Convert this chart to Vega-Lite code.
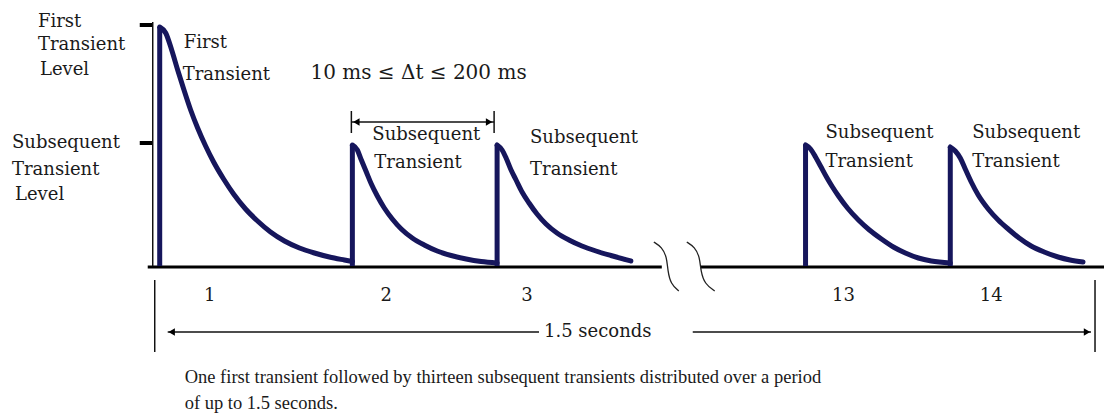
{
  "$schema": "https://vega.github.io/schema/vega-lite/v6.json",
  "width": 1106,
  "height": 420,
  "padding": 0,
  "autosize": {"type": "fit", "contains": "padding"},
  "background": "white",
  "config": {"view": {"stroke": null}, "axis": {"disable": true}},
  "datasets": {
    "rise": [
      {"pulse": 1, "x": 160, "y": 266, "y2": 27},
      {"pulse": 2, "x": 353, "y": 266, "y2": 145},
      {"pulse": 3, "x": 498, "y": 266, "y2": 145},
      {"pulse": 13, "x": 807, "y": 266, "y2": 145},
      {"pulse": 14, "x": 952, "y": 266, "y2": 147}
    ],
    "decay": [
      {"pulse": 1, "x": 160, "y": 27}, {"pulse": 1, "x": 166, "y": 33}, {"pulse": 1, "x": 172, "y": 50},
      {"pulse": 1, "x": 178, "y": 70}, {"pulse": 1, "x": 184, "y": 89}, {"pulse": 1, "x": 191, "y": 110},
      {"pulse": 1, "x": 198, "y": 128}, {"pulse": 1, "x": 206, "y": 146}, {"pulse": 1, "x": 214, "y": 162},
      {"pulse": 1, "x": 224, "y": 179}, {"pulse": 1, "x": 234, "y": 194}, {"pulse": 1, "x": 246, "y": 209},
      {"pulse": 1, "x": 258, "y": 221}, {"pulse": 1, "x": 271, "y": 232}, {"pulse": 1, "x": 285, "y": 241},
      {"pulse": 1, "x": 300, "y": 248}, {"pulse": 1, "x": 315, "y": 253}, {"pulse": 1, "x": 330, "y": 257},
      {"pulse": 1, "x": 345, "y": 260}, {"pulse": 1, "x": 353, "y": 261.5},
      {"pulse": 2, "x": 353, "y": 145}, {"pulse": 2, "x": 358, "y": 150}, {"pulse": 2, "x": 362, "y": 160},
      {"pulse": 2, "x": 367, "y": 172}, {"pulse": 2, "x": 372, "y": 184}, {"pulse": 2, "x": 378, "y": 196},
      {"pulse": 2, "x": 385, "y": 208}, {"pulse": 2, "x": 393, "y": 219}, {"pulse": 2, "x": 402, "y": 229},
      {"pulse": 2, "x": 413, "y": 238}, {"pulse": 2, "x": 425, "y": 245}, {"pulse": 2, "x": 438, "y": 251},
      {"pulse": 2, "x": 452, "y": 255.5}, {"pulse": 2, "x": 467, "y": 259}, {"pulse": 2, "x": 482, "y": 261.5},
      {"pulse": 2, "x": 498, "y": 263},
      {"pulse": 3, "x": 498, "y": 145}, {"pulse": 3, "x": 503, "y": 150}, {"pulse": 3, "x": 507, "y": 158},
      {"pulse": 3, "x": 512, "y": 170}, {"pulse": 3, "x": 517, "y": 180}, {"pulse": 3, "x": 523, "y": 192},
      {"pulse": 3, "x": 530, "y": 203}, {"pulse": 3, "x": 538, "y": 214}, {"pulse": 3, "x": 547, "y": 224},
      {"pulse": 3, "x": 558, "y": 233}, {"pulse": 3, "x": 570, "y": 240}, {"pulse": 3, "x": 583, "y": 246},
      {"pulse": 3, "x": 597, "y": 251}, {"pulse": 3, "x": 612, "y": 255.5}, {"pulse": 3, "x": 632, "y": 261},
      {"pulse": 13, "x": 807, "y": 145}, {"pulse": 13, "x": 812, "y": 149}, {"pulse": 13, "x": 817, "y": 157},
      {"pulse": 13, "x": 822, "y": 166}, {"pulse": 13, "x": 828, "y": 177}, {"pulse": 13, "x": 834, "y": 187},
      {"pulse": 13, "x": 840, "y": 196}, {"pulse": 13, "x": 849, "y": 208}, {"pulse": 13, "x": 860, "y": 220},
      {"pulse": 13, "x": 871, "y": 230}, {"pulse": 13, "x": 883, "y": 239}, {"pulse": 13, "x": 895, "y": 247},
      {"pulse": 13, "x": 907, "y": 253}, {"pulse": 13, "x": 920, "y": 258}, {"pulse": 13, "x": 933, "y": 261},
      {"pulse": 13, "x": 952, "y": 263},
      {"pulse": 14, "x": 952, "y": 147}, {"pulse": 14, "x": 957, "y": 151}, {"pulse": 14, "x": 962, "y": 158},
      {"pulse": 14, "x": 967, "y": 169}, {"pulse": 14, "x": 973, "y": 182}, {"pulse": 14, "x": 980, "y": 195},
      {"pulse": 14, "x": 990, "y": 209}, {"pulse": 14, "x": 1000, "y": 220}, {"pulse": 14, "x": 1010, "y": 229},
      {"pulse": 14, "x": 1021, "y": 238}, {"pulse": 14, "x": 1033, "y": 246}, {"pulse": 14, "x": 1046, "y": 252},
      {"pulse": 14, "x": 1060, "y": 257}, {"pulse": 14, "x": 1072, "y": 260}, {"pulse": 14, "x": 1085, "y": 262}
    ],
    "baseline": [
      {"x": 148, "x2": 663, "y": 267},
      {"x": 702, "x2": 1106, "y": 267}
    ],
    "levelTicks": [
      {"x": 140, "x2": 153, "y": 25},
      {"x": 140, "x2": 153, "y": 143}
    ],
    "thinH": [
      {"x": 168, "x2": 540, "y": 332},
      {"x": 694, "x2": 1093, "y": 332},
      {"x": 352, "x2": 495, "y": 122}
    ],
    "thinV": [
      {"x": 153, "y": 22, "y2": 266},
      {"x": 155, "y": 280, "y2": 352},
      {"x": 1097, "y": 280, "y2": 352},
      {"x": 352, "y": 111, "y2": 133},
      {"x": 495, "y": 111, "y2": 133}
    ],
    "arrowLeft": [
      {"x": 172, "y": 332},
      {"x": 357, "y": 122}
    ],
    "arrowRight": [
      {"x": 1089, "y": 332},
      {"x": 490, "y": 122}
    ],
    "breaks": [
      {"mark": "a", "i": 1, "x": 655, "y": 242}, {"mark": "a", "i": 2, "x": 663, "y": 247},
      {"mark": "a", "i": 3, "x": 668, "y": 257}, {"mark": "a", "i": 4, "x": 669, "y": 271},
      {"mark": "a", "i": 5, "x": 672, "y": 284}, {"mark": "a", "i": 6, "x": 680, "y": 291},
      {"mark": "b", "i": 1, "x": 688, "y": 242}, {"mark": "b", "i": 2, "x": 696, "y": 247},
      {"mark": "b", "i": 3, "x": 701, "y": 257}, {"mark": "b", "i": 4, "x": 702, "y": 271},
      {"mark": "b", "i": 5, "x": 706, "y": 284}, {"mark": "b", "i": 6, "x": 716, "y": 291}
    ],
    "labels": [
      {"text": "First", "x": 38, "y": 22},
      {"text": "Transient", "x": 38, "y": 45},
      {"text": "Level", "x": 40, "y": 70},
      {"text": "Subsequent", "x": 12, "y": 143},
      {"text": "Transient", "x": 12, "y": 170},
      {"text": "Level", "x": 15, "y": 195},
      {"text": "First", "x": 184, "y": 43},
      {"text": "Transient", "x": 183, "y": 75},
      {"text": "Subsequent", "x": 373, "y": 135},
      {"text": "Transient", "x": 375, "y": 163},
      {"text": "Subsequent", "x": 531, "y": 138},
      {"text": "Transient", "x": 531, "y": 170},
      {"text": "Subsequent", "x": 827, "y": 133},
      {"text": "Transient", "x": 827, "y": 162},
      {"text": "Subsequent", "x": 974, "y": 133},
      {"text": "Transient", "x": 974, "y": 162},
      {"text": "1.5 seconds", "x": 545, "y": 332}
    ],
    "numbers": [
      {"text": "1", "x": 210, "y": 296},
      {"text": "2", "x": 387, "y": 296},
      {"text": "3", "x": 528, "y": 296},
      {"text": "13", "x": 845, "y": 296},
      {"text": "14", "x": 993, "y": 296}
    ],
    "interval": [
      {"text": "10 ms ≤ Δt ≤ 200 ms", "x": 311, "y": 73}
    ],
    "caption": [
      {"text": "One first transient followed by thirteen subsequent transients distributed over a period", "x": 185, "y": 377},
      {"text": "of up to 1.5 seconds.", "x": 185, "y": 403}
    ]
  },
  "layer": [
    {
      "data": {"name": "baseline"},
      "mark": {"type": "rule", "color": "#000000", "strokeWidth": 3},
      "encoding": {
        "x": {"field": "x", "type": "quantitative", "scale": {"domain": [0, 1106], "nice": false, "zero": false}},
        "x2": {"field": "x2"},
        "y": {"field": "y", "type": "quantitative", "scale": {"domain": [0, 420], "nice": false, "zero": false, "reverse": true}}
      }
    },
    {
      "data": {"name": "levelTicks"},
      "mark": {"type": "rule", "color": "#000000", "strokeWidth": 4},
      "encoding": {
        "x": {"field": "x", "type": "quantitative", "scale": {"domain": [0, 1106], "nice": false, "zero": false}},
        "x2": {"field": "x2"},
        "y": {"field": "y", "type": "quantitative", "scale": {"domain": [0, 420], "nice": false, "zero": false, "reverse": true}}
      }
    },
    {
      "data": {"name": "thinH"},
      "mark": {"type": "rule", "color": "#111111", "strokeWidth": 1.5},
      "encoding": {
        "x": {"field": "x", "type": "quantitative", "scale": {"domain": [0, 1106], "nice": false, "zero": false}},
        "x2": {"field": "x2"},
        "y": {"field": "y", "type": "quantitative", "scale": {"domain": [0, 420], "nice": false, "zero": false, "reverse": true}}
      }
    },
    {
      "data": {"name": "thinV"},
      "mark": {"type": "rule", "color": "#111111", "strokeWidth": 1.5},
      "encoding": {
        "x": {"field": "x", "type": "quantitative", "scale": {"domain": [0, 1106], "nice": false, "zero": false}},
        "y": {"field": "y", "type": "quantitative", "scale": {"domain": [0, 420], "nice": false, "zero": false, "reverse": true}},
        "y2": {"field": "y2"}
      }
    },
    {
      "data": {"name": "arrowLeft"},
      "mark": {"type": "point", "shape": "triangle-left", "filled": true, "color": "#000000", "size": 55, "opacity": 1},
      "encoding": {
        "x": {"field": "x", "type": "quantitative", "scale": {"domain": [0, 1106], "nice": false, "zero": false}},
        "y": {"field": "y", "type": "quantitative", "scale": {"domain": [0, 420], "nice": false, "zero": false, "reverse": true}}
      }
    },
    {
      "data": {"name": "arrowRight"},
      "mark": {"type": "point", "shape": "triangle-right", "filled": true, "color": "#000000", "size": 55, "opacity": 1},
      "encoding": {
        "x": {"field": "x", "type": "quantitative", "scale": {"domain": [0, 1106], "nice": false, "zero": false}},
        "y": {"field": "y", "type": "quantitative", "scale": {"domain": [0, 420], "nice": false, "zero": false, "reverse": true}}
      }
    },
    {
      "data": {"name": "breaks"},
      "mark": {"type": "line", "color": "#222222", "strokeWidth": 1.3, "interpolate": "basis"},
      "encoding": {
        "x": {"field": "x", "type": "quantitative", "scale": {"domain": [0, 1106], "nice": false, "zero": false}},
        "y": {"field": "y", "type": "quantitative", "scale": {"domain": [0, 420], "nice": false, "zero": false, "reverse": true}},
        "detail": {"field": "mark"},
        "order": {"field": "i"}
      }
    },
    {
      "data": {"name": "rise"},
      "mark": {"type": "rule", "color": "#16165c", "strokeWidth": 5, "strokeCap": "butt"},
      "encoding": {
        "x": {"field": "x", "type": "quantitative", "scale": {"domain": [0, 1106], "nice": false, "zero": false}},
        "y": {"field": "y", "type": "quantitative", "scale": {"domain": [0, 420], "nice": false, "zero": false, "reverse": true}},
        "y2": {"field": "y2"}
      }
    },
    {
      "data": {"name": "decay"},
      "mark": {"type": "line", "color": "#16165c", "strokeWidth": 5, "interpolate": "monotone", "strokeCap": "round", "strokeJoin": "round"},
      "encoding": {
        "x": {"field": "x", "type": "quantitative", "scale": {"domain": [0, 1106], "nice": false, "zero": false}},
        "y": {"field": "y", "type": "quantitative", "scale": {"domain": [0, 420], "nice": false, "zero": false, "reverse": true}},
        "detail": {"field": "pulse"}
      }
    },
    {
      "data": {"name": "labels"},
      "mark": {"type": "text", "font": "DejaVu Serif", "fontSize": 18, "align": "left", "baseline": "middle", "color": "#1a1a1a"},
      "encoding": {
        "x": {"field": "x", "type": "quantitative", "scale": {"domain": [0, 1106], "nice": false, "zero": false}},
        "y": {"field": "y", "type": "quantitative", "scale": {"domain": [0, 420], "nice": false, "zero": false, "reverse": true}},
        "text": {"field": "text"}
      }
    },
    {
      "data": {"name": "numbers"},
      "mark": {"type": "text", "font": "DejaVu Serif", "fontSize": 18, "align": "center", "baseline": "middle", "color": "#1a1a1a"},
      "encoding": {
        "x": {"field": "x", "type": "quantitative", "scale": {"domain": [0, 1106], "nice": false, "zero": false}},
        "y": {"field": "y", "type": "quantitative", "scale": {"domain": [0, 420], "nice": false, "zero": false, "reverse": true}},
        "text": {"field": "text"}
      }
    },
    {
      "data": {"name": "interval"},
      "mark": {"type": "text", "font": "DejaVu Serif", "fontSize": 20, "align": "left", "baseline": "middle", "color": "#1a1a1a"},
      "encoding": {
        "x": {"field": "x", "type": "quantitative", "scale": {"domain": [0, 1106], "nice": false, "zero": false}},
        "y": {"field": "y", "type": "quantitative", "scale": {"domain": [0, 420], "nice": false, "zero": false, "reverse": true}},
        "text": {"field": "text"}
      }
    },
    {
      "data": {"name": "caption"},
      "mark": {"type": "text", "font": "Liberation Serif", "fontSize": 18.5, "align": "left", "baseline": "middle", "color": "#1a1a1a"},
      "encoding": {
        "x": {"field": "x", "type": "quantitative", "scale": {"domain": [0, 1106], "nice": false, "zero": false}},
        "y": {"field": "y", "type": "quantitative", "scale": {"domain": [0, 420], "nice": false, "zero": false, "reverse": true}},
        "text": {"field": "text"}
      }
    }
  ]
}
